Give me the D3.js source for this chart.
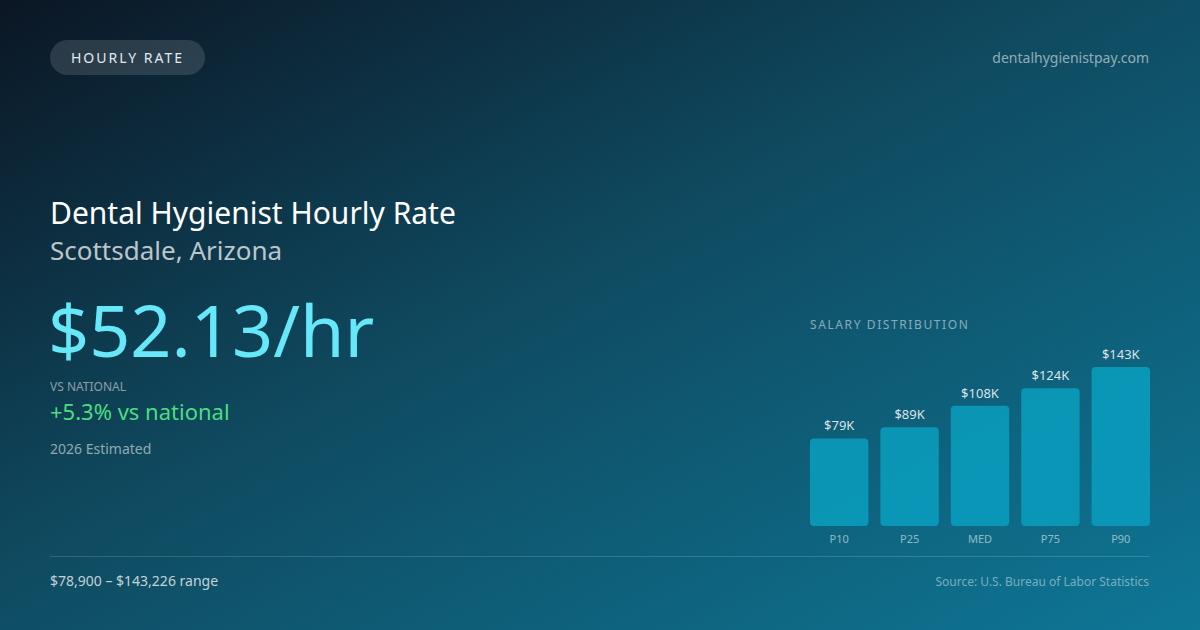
<!DOCTYPE html>
<html><head><meta charset="utf-8">
<script src="https://cdn.jsdelivr.net/npm/d3@7"></script>
<style>html,body{margin:0;padding:0;background:#0c1a28;}svg{display:block;font-family:"Noto Sans","Open Sans",sans-serif;}</style>
</head><body>
<svg id="c" width="1200" height="630"></svg>
<script>
const categories = ["P10", "P25", "MED", "P75", "P90"];
const salaries = [78900, 89000, 108430, 124000, 143226];
const valueLabels = ["$79K", "$89K", "$108K", "$124K", "$143K"];

const svg = d3.select("#c");
const defs = svg.append("defs");
const g = defs.append("linearGradient").attr("id","bg").attr("x1","0%").attr("y1","0%").attr("x2","100%").attr("y2","100%");
g.append("stop").attr("offset","0%").attr("stop-color","#0b1624");
g.append("stop").attr("offset","45%").attr("stop-color","#0f4a60");
g.append("stop").attr("offset","100%").attr("stop-color","#0e7796");
svg.append("rect").attr("width",1200).attr("height",630).attr("fill","url(#bg)");

// pill
svg.append("rect").attr("x",50).attr("y",40).attr("width",155).attr("height",35).attr("rx",17.5).attr("fill","rgba(255,255,255,0.13)");
svg.append("text").attr("x",127.5).attr("y",63).attr("text-anchor","middle").attr("font-size",14).attr("letter-spacing","2").attr("fill","#e2e8f0").text("HOURLY RATE");
svg.append("text").attr("x",1149).attr("y",63).attr("text-anchor","end").attr("font-size",14).attr("fill","rgba(255,255,255,0.55)").text("dentalhygienistpay.com");

// titles
svg.append("text").attr("x",50).attr("y",224).attr("font-size",30).attr("fill","#ffffff").text("Dental Hygienist Hourly Rate");
svg.append("text").attr("x",50).attr("y",260).attr("font-size",26).attr("fill","rgba(255,255,255,0.72)").text("Scottsdale, Arizona");
svg.append("text").attr("x",48).attr("y",357).attr("font-size",72).attr("fill","#67e8f9").text("$52.13/hr");
svg.append("text").attr("x",50).attr("y",391).attr("font-size",12).attr("fill","rgba(255,255,255,0.5)").text("VS NATIONAL");
svg.append("text").attr("x",50).attr("y",420).attr("font-size",22).attr("fill","#4ade80").text("+5.3% vs national");
svg.append("text").attr("x",50).attr("y",454).attr("font-size",14).attr("fill","rgba(255,255,255,0.55)").text("2026 Estimated");

// chart
svg.append("text").attr("x",810).attr("y",329).attr("font-size",12).attr("letter-spacing","1.6").attr("fill","rgba(255,255,255,0.5)").text("SALARY DISTRIBUTION");

const x = d3.scaleBand().domain(categories).range([810,1150]).paddingInner(0.17).paddingOuter(0);
const y = d3.scaleLinear().domain([0, d3.max(salaries)]).range([526, 367]);

const data = categories.map((c,i)=>({c, v:salaries[i], l:valueLabels[i]}));
const cg = svg.append("g");
cg.selectAll("rect.bar").data(data).join("rect").attr("class","bar")
  .attr("x",d=>x(d.c)).attr("y",d=>y(d.v)).attr("width",x.bandwidth()).attr("height",d=>y(0)-y(d.v))
  .attr("rx",4).attr("fill","#0a9bbb").attr("fill-opacity",0.9);
cg.selectAll("text.val").data(data).join("text").attr("class","val")
  .attr("x",d=>x(d.c)+x.bandwidth()/2).attr("y",d=>y(d.v)-8).attr("text-anchor","middle")
  .attr("font-size",13).attr("fill","rgba(255,255,255,0.85)").text(d=>d.l);
const ax = svg.append("g").attr("transform","translate(0,526)").call(d3.axisBottom(x).tickSize(0).tickPadding(9));
ax.select(".domain").remove();
ax.selectAll("text").attr("font-family","'Noto Sans','Open Sans',sans-serif").attr("font-size",11).attr("fill","rgba(255,255,255,0.55)");

// footer
svg.append("line").attr("x1",50).attr("x2",1150).attr("y1",556.5).attr("y2",556.5).attr("stroke","rgba(255,255,255,0.15)");
svg.append("text").attr("x",50).attr("y",586).attr("font-size",14).attr("fill","rgba(255,255,255,0.75)").text("$78,900 – $143,226 range");
svg.append("text").attr("x",1149).attr("y",586).attr("text-anchor","end").attr("font-size",12).attr("fill","rgba(255,255,255,0.45)").text("Source: U.S. Bureau of Labor Statistics");
</script>
</body></html>
